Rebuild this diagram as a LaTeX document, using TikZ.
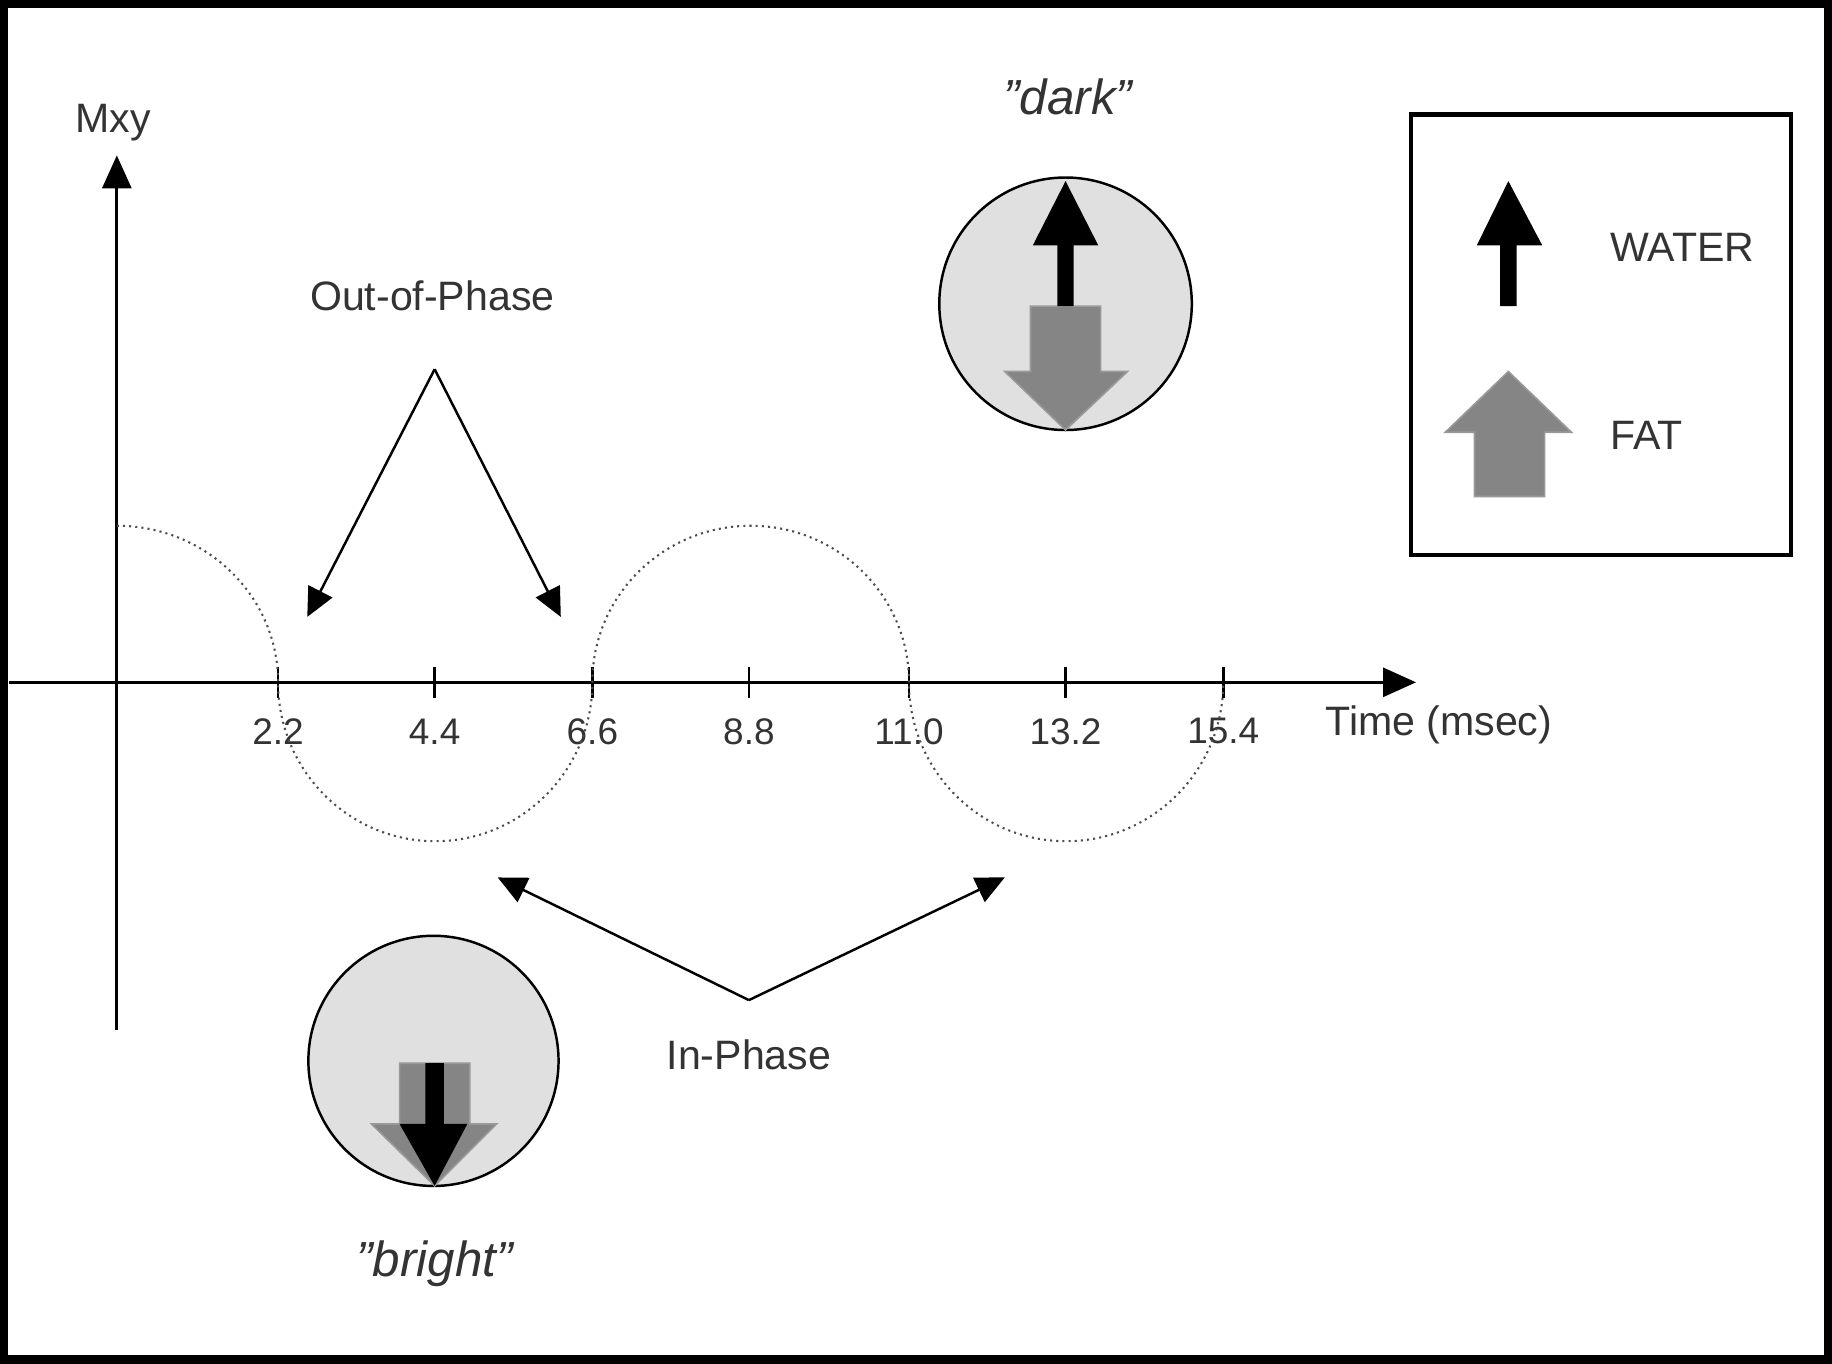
\documentclass[tikz,border=0pt]{standalone}
\usepackage{fontspec}
\setmainfont{Liberation Sans}
\usetikzlibrary{arrows.meta}
\begin{document}
\begin{tikzpicture}[x=0.01cm,y=-0.01cm,
  lbl/.style={font=\fontsize{10}{12}\selectfont,color=black!80},
  ptr/.style={line width=0.6pt,-{Triangle[length=7pt,width=6.5pt]}},
  axis/.style={line width=0.8pt},
  wave/.style={densely dotted,line width=0.5pt,black!70},
  waterc/.style={fill=black},
  fatc/.style={fill=black!48,draw=black!40,line width=0.4pt}]
\useasboundingbox (0,0) rectangle (1568,1167);
\draw[line width=3pt] (2,2) rectangle (1566,1165);
% axes
\coordinate (yb) at (100,882); \coordinate (yt) at (100,133);
\coordinate (xl) at (8,584); \coordinate (xr) at (1212,584);
\draw[axis,-{Triangle[length=8pt,width=7pt]}] (yb) -- (yt);
\draw[axis,-{Triangle[length=8pt,width=7pt]}] (xl) -- (xr);
\node[lbl] (mxy) at (97,105) {Mxy};
\node[lbl,anchor=west] (time) at (1122,620) {Time (msec)};
\foreach \x/\t in {238/2.2,372/4.4,507/6.6,641/8.8,778/11.0,912/13.2,1047/15.4}{
  \draw[line width=0.6pt] (\x,571) -- (\x,597);
  \node[lbl,font=\fontsize{9}{11}\selectfont] at (\x,626) {\t};}
% wave
\draw[wave] (100,450) arc[start angle=-90,end angle=0,x radius=138,y radius=134]
  arc[start angle=180,end angle=0,x radius=134.5,y radius=136]
  arc[start angle=180,end angle=360,x radius=135.5,y radius=134]
  arc[start angle=180,end angle=0,x radius=134.5,y radius=136];
% out of phase
\node[lbl] (oop) at (370,253) {Out-of-Phase};
\coordinate (oa) at (372,316);
\coordinate (o1) at (263,528); \coordinate (o2) at (480,528);
\draw[ptr] (oa) -- (o1); \draw[ptr] (oa) -- (o2);
% in phase
\node[lbl] (ip) at (641,903) {In-Phase};
\coordinate (ia) at (641,856);
\coordinate (i1) at (426,751); \coordinate (i2) at (860,751);
\draw[ptr] (ia) -- (i1); \draw[ptr] (ia) -- (i2);
% dark circle
\node[circle,draw,line width=0.6pt,fill=black!12,minimum size=2.16cm,inner sep=0pt] (dc) at (912,260) {};
\fill[fatc] (882,262) -- (942,262) -- (942,318) -- (965,318) -- (912,368) -- (860,318) -- (882,318) -- cycle;
\fill[waterc] (905,262) -- (919,262) -- (919,210) -- (940,210) -- (912,155) -- (884,210) -- (905,210) -- cycle;
\node[lbl,font=\fontsize{12}{14}\selectfont\itshape] (dark) at (914,83) {"dark"};
% bright circle
\node[circle,draw,line width=0.6pt,fill=black!12,minimum size=2.14cm,inner sep=0pt] (bc) at (371,908) {};
\fill[fatc] (342,910) -- (402,910) -- (402,962) -- (425,962) -- (372,1015) -- (318,962) -- (342,962) -- cycle;
\fill[waterc] (364,910) -- (380,910) -- (380,962) -- (400,962) -- (372,1015) -- (342,962) -- (364,962) -- cycle;
\node[lbl,font=\fontsize{12}{14}\selectfont\itshape] (bright) at (372,1082) {"bright"};
% legend
\draw[line width=1pt] (1208,98) rectangle (1533,475);
\fill[waterc] (1284,262) -- (1298,262) -- (1298,210) -- (1320,210) -- (1291,155) -- (1264,210) -- (1284,210) -- cycle;
\node[lbl,anchor=west] (wl) at (1366,212) {WATER};
\fill[fatc] (1262,425) -- (1322,425) -- (1322,370) -- (1345,370) -- (1291,318) -- (1237,370) -- (1262,370) -- cycle;
\node[lbl,anchor=west] (fl) at (1366,373) {FAT};
\end{tikzpicture}
\end{document}
